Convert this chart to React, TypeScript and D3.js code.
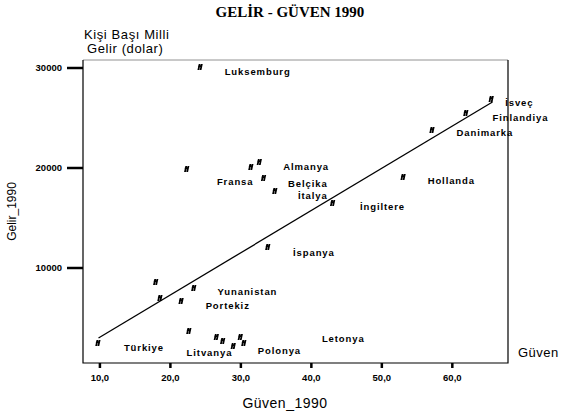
import { useEffect, useRef } from 'react'
import * as d3 from 'd3'

// Güven (trust, %) and per-capita income (dollars), 1990
const guven = [
  9.7, 17.9, 18.5, 21.5, 23.3, 22.6, 26.5, 27.4, 28.9, 29.9, 30.4, 33.8,
  24.2, 22.3, 31.4, 32.6, 33.2, 34.8, 43.0, 53.0, 57.1, 61.9, 65.5,
]
const gelir = [
  2500, 8600, 7000, 6700, 8000, 3700, 3100, 2700, 2200, 3100, 2500, 12100,
  30100, 19900, 20100, 20600, 19000, 17700, 16500, 19100, 23800, 25500, 26900,
]

// country labels, anchored in data units (left edge, vertical middle)
const labelNames = [
  'Luksemburg', 'Almanya', 'Fransa', 'Belçika', 'İtalya', 'İspanya',
  'İngiltere', 'Hollanda', 'Danimarka', 'Finlandiya', 'İsveç',
  'Yunanistan', 'Portekiz', 'Türkiye', 'Litvanya', 'Polonya', 'Letonya',
]
const labelGuven = [
  27.7, 36.0, 26.6, 36.7, 38.1, 37.4, 46.9, 56.5, 60.6, 65.7, 67.5,
  26.7, 25.0, 13.4, 22.3, 32.4, 41.5,
]
const labelGelir = [
  29600, 20100, 18600, 18400, 17200, 11500, 16100, 18700, 23500, 25000, 26500,
  7600, 6200, 2000, 1500, 1700, 2900,
]

// fitted line end points
const fitGuven = [9.8, 65.7]
const fitGelir = [3000, 26600]

const xTicks = [10, 20, 30, 40, 50, 60]
const yTicks = [10000, 20000, 30000]

const W = 571
const H = 417

export default function App() {
  const svgRef = useRef<SVGSVGElement | null>(null)

  useEffect(() => {
    const plot = { left: 83, right: 508, top: 60, bottom: 363 }
    const svg = d3.select(svgRef.current)
    svg.selectAll('*').remove()
    svg.attr('viewBox', `0 0 ${W} ${H}`)

    const sans = 'Liberation Sans, Arial, sans-serif'

    const x = d3.scaleLinear().domain([7.6, 67.9]).range([plot.left, plot.right])
    const y = d3.scaleLinear().domain([500, 30800]).range([plot.bottom, plot.top])

    // ================= TITLE =================
    svg
      .append('text')
      .attr('x', 290)
      .attr('y', 17)
      .attr('text-anchor', 'middle')
      .attr('font-family', 'Liberation Serif, Times New Roman, serif')
      .attr('font-weight', 'bold')
      .attr('font-size', 15)
      .text('GELİR - GÜVEN 1990')

    svg
      .append('text')
      .attr('x', 84)
      .attr('y', 39)
      .attr('font-family', sans)
      .attr('font-size', 13)
      .attr('letter-spacing', 0.6)
      .text('Kişi Başı Milli')
    svg
      .append('text')
      .attr('x', 87)
      .attr('y', 53)
      .attr('font-family', sans)
      .attr('font-size', 13)
      .attr('letter-spacing', 0.6)
      .text('Gelir (dolar)')

    // ================= FRAME =================
    const g = svg.append('g')
    g.append('line')
      .attr('x1', plot.left).attr('x2', plot.right)
      .attr('y1', plot.top).attr('y2', plot.top)
      .attr('stroke', '#777').attr('stroke-width', 0.8)
    g.append('path')
      .attr('d', `M${plot.left},${plot.top}V${plot.bottom}H${plot.right}V${plot.top}`)
      .attr('fill', 'none')
      .attr('stroke', '#000')
      .attr('stroke-width', 1.2)

    // ================= AXES =================
    const yAxis = svg.append('g')
    yAxis
      .selectAll('line')
      .data(yTicks)
      .join('line')
      .attr('x1', plot.left - 16)
      .attr('x2', plot.left)
      .attr('y1', (d) => y(d))
      .attr('y2', (d) => y(d))
      .attr('stroke', '#000')
      .attr('stroke-width', 2.5)
    yAxis
      .selectAll('text')
      .data(yTicks)
      .join('text')
      .attr('x', plot.left - 21)
      .attr('y', (d) => y(d))
      .attr('dy', '0.35em')
      .attr('text-anchor', 'end')
      .attr('font-family', sans)
      .attr('font-weight', 'bold')
      .attr('font-size', 9.5)
      .text((d) => String(d))

    const xAxis = svg.append('g')
    xAxis
      .selectAll('line')
      .data(xTicks)
      .join('line')
      .attr('x1', (d) => x(d))
      .attr('x2', (d) => x(d))
      .attr('y1', plot.bottom)
      .attr('y2', plot.bottom + 5)
      .attr('stroke', '#000')
      .attr('stroke-width', 2.5)
    xAxis
      .selectAll('text')
      .data(xTicks)
      .join('text')
      .attr('x', (d) => x(d))
      .attr('y', 381)
      .attr('text-anchor', 'middle')
      .attr('font-family', sans)
      .attr('font-weight', 'bold')
      .attr('font-size', 9.5)
      .text((d) => d3.format('.1f')(d).replace('.', ','))

    svg
      .append('text')
      .attr('transform', `translate(16,${(plot.top + plot.bottom) / 2}) rotate(-90)`)
      .attr('text-anchor', 'middle')
      .attr('font-family', sans)
      .attr('font-size', 12)
      .text('Gelir_1990')

    svg
      .append('text')
      .attr('x', 285)
      .attr('y', 408)
      .attr('text-anchor', 'middle')
      .attr('font-family', sans)
      .attr('font-size', 14)
      .attr('letter-spacing', 0.5)
      .text('Güven_1990')

    svg
      .append('text')
      .attr('x', 518)
      .attr('y', 357)
      .attr('font-family', sans)
      .attr('font-size', 13)
      .attr('letter-spacing', 0.5)
      .text('Güven')

    // ================= FIT LINE =================
    const fitData = fitGuven.map((v, i) => [v, fitGelir[i]] as [number, number])
    svg
      .append('path')
      .datum(fitData)
      .attr('fill', 'none')
      .attr('stroke', '#000')
      .attr('stroke-width', 1.3)
      .attr(
        'd',
        d3
          .line<[number, number]>()
          .x((d) => x(d[0]))
          .y((d) => y(d[1]))
      )

    // ================= POINTS =================
    const pts = guven.map((v, i) => ({ gx: v, gy: gelir[i] }))
    svg
      .append('g')
      .selectAll('path')
      .data(pts)
      .join('path')
      .attr('transform', (d) => `translate(${x(d.gx)},${y(d.gy)}) skewX(-12)`)
      .attr('d', 'M-1,-3V3M1.2,-3V3M-2,-0.8H2')
      .attr('stroke', '#000')
      .attr('stroke-width', 1.8)
      .attr('fill', 'none')

    // ================= LABELS =================
    const labels = labelNames.map((name, i) => ({
      name,
      gx: labelGuven[i],
      gy: labelGelir[i],
    }))
    svg
      .append('g')
      .selectAll('text')
      .data(labels)
      .join('text')
      .attr('x', (d) => x(d.gx))
      .attr('y', (d) => y(d.gy))
      .attr('dy', '0.35em')
      .attr('font-family', sans)
      .attr('font-weight', 'bold')
      .attr('font-size', 9.5)
      .attr('letter-spacing', 0.9)
      .text((d) => d.name)
  }, [])

  return (
    <svg
      ref={svgRef}
      width={W}
      height={H}
      style={{ position: 'absolute', left: 0, top: 0, background: '#fff' }}
    />
  )
}
